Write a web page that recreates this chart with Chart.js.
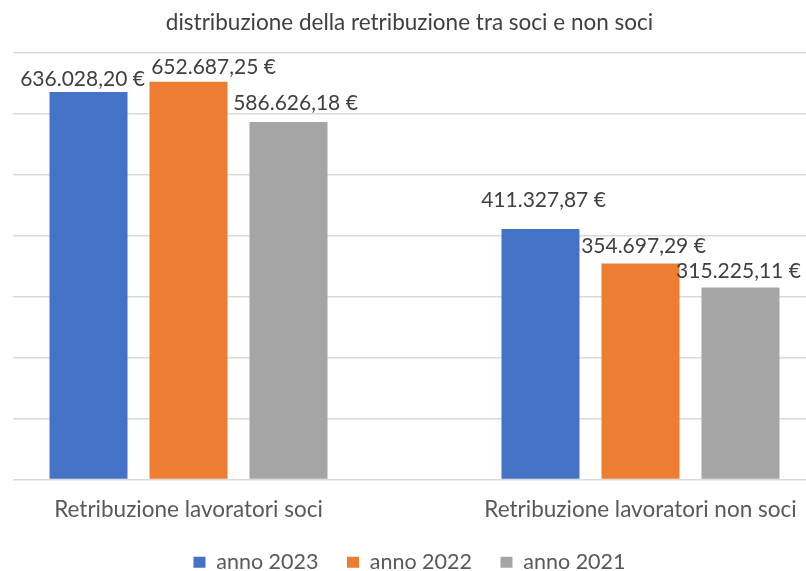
<!DOCTYPE html>
<html>
<head>
<meta charset="utf-8">
<script src="https://cdn.jsdelivr.net/npm/chart.js@4"></script>
<style>
  html, body { margin: 0; padding: 0; background: #fff; }
  #wrap { width: 806px; height: 571px; }
</style>
</head>
<body>
<div id="wrap"><canvas id="chart" width="806" height="571"></canvas></div>
<script>
// chart data
const categories = ['Retribuzione lavoratori soci', 'Retribuzione lavoratori non soci'];
const seriesNames = ['anno 2023', 'anno 2022', 'anno 2021'];
const anno2023 = [636028.20, 411327.87];
const anno2022 = [652687.25, 354697.29];
const anno2021 = [586626.18, 315225.11];
const seriesColors = ['#4472C4', '#ED7D31', '#A5A5A5'];

const FONT = 'Lato, "Open Sans", sans-serif';

// 636028.2 -> "636.028,20 €"
function euro(v) {
    const parts = v.toFixed(2).split('.');
    const intPart = parts[0].replace(/\B(?=(\d{3})+(?!\d))/g, '.');
    return intPart + ',' + parts[1] + ' €';
}

// small manual nudges, Excel placed some labels off-centre
const labelNudge = [
    [[-6, 1], [3, -15]],
    [[25, -1], [3, -3]],
    [[7, -5], [-2, -2]]
];

const valueLabels = {
    id: 'valueLabels',
    afterDatasetsDraw(chart) {
        const ctx = chart.ctx;
        ctx.save();
        ctx.font = '21px ' + FONT;
        ctx.fillStyle = '#404040';
        ctx.textAlign = 'center';
        ctx.textBaseline = 'middle';
        chart.data.datasets.forEach((ds, di) => {
            chart.getDatasetMeta(di).data.forEach((bar, i) => {
                const n = labelNudge[di][i];
                ctx.fillText(euro(ds.data[i].y), bar.x + n[0], bar.y - 14 + n[1]);
            });
        });
        ctx.restore();
    }
};

const seriesValues = [anno2023, anno2022, anno2021];

new Chart(document.getElementById('chart'), {
    type: 'bar',
    data: {
        datasets: seriesNames.map((name, s) => ({
            label: name,
            data: categories.map((c, i) => ({ x: i + 1, y: seriesValues[s][i] })),
            backgroundColor: seriesColors[s],
            categoryPercentage: 0.6637,
            barPercentage: 0.78
        }))
    },
    options: {
        responsive: false,
        animation: false,
        layout: { padding: { left: 13, right: 0, top: 0, bottom: -12 } },
        plugins: {
            title: {
                display: true,
                text: 'distribuzione della retribuzione tra soci e non soci',
                color: '#404040',
                font: { family: FONT, size: 22.5, weight: 'normal' },
                padding: { top: 9, bottom: 17 }
            },
            legend: {
                position: 'bottom',
                labels: {
                    color: '#595959',
                    font: { family: FONT, size: 21.5 },
                    boxWidth: 12,
                    boxHeight: 11,
                    padding: 28.5
                }
            },
            tooltip: { enabled: false }
        },
        scales: {
            x: {
                type: 'linear',
                offset: false,
                min: 0.6117,
                max: 2.3662,
                grid: { display: false, drawTicks: false },
                border: { display: false },
                afterBuildTicks: axis => {
                    axis.ticks = categories.map((c, i) => ({ value: i + 1 }));
                },
                // padding is counted twice by default, keep only the space above the labels;
                // labels may reach the canvas edge, so no side padding either
                afterFit: axis => {
                    axis.height = 43.5;
                    axis.paddingLeft = 0;
                    axis.paddingRight = 0;
                },
                ticks: {
                    color: '#595959',
                    font: { family: FONT, size: 22.5 },
                    padding: 16.5,
                    maxRotation: 0,
                    autoSkip: false,
                    callback: v => categories[v - 1]
                }
            },
            y: {
                min: 0,
                max: 700000,
                ticks: { display: false, stepSize: 100000 },
                grid: { color: '#d9d9d9', lineWidth: 1.5, drawTicks: false },
                border: { display: false }
            }
        }
    },
    plugins: [valueLabels]
});
</script>
</body>
</html>
